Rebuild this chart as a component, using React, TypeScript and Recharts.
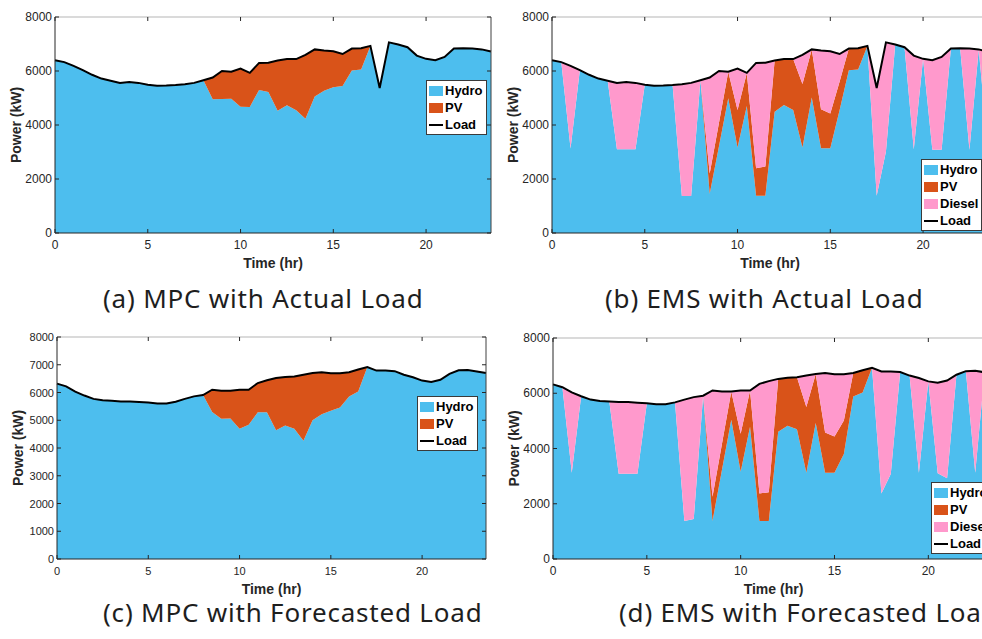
import React from "react";
import { ComposedChart, Area, Line, XAxis, YAxis, Legend, ReferenceLine, Label } from "recharts";

// half-hour steps over one day
const hours = [
  0, 0.5, 1, 1.5, 2, 2.5, 3, 3.5, 4, 4.5, 5, 5.5, 6, 6.5, 7, 7.5, 8, 8.5, 9, 9.5, 10, 10.5, 11, 11.5,
  12, 12.5, 13, 13.5, 14, 14.5, 15, 15.5, 16, 16.5, 17, 17.5, 18, 18.5, 19, 19.5, 20, 20.5, 21, 21.5, 22, 22.5, 23, 23.5,
];

const loadActual = [
  6400, 6330, 6190, 6030, 5860, 5720, 5640, 5560, 5590, 5560, 5490, 5450, 5460, 5480, 5510, 5560, 5660, 5760, 6000, 5970, 6090, 5930, 6300, 6310,
  6390, 6440, 6440, 6600, 6800, 6760, 6730, 6630, 6830, 6840, 6930, 5370, 7060, 6980, 6880, 6570, 6450, 6400, 6520, 6830, 6840, 6830, 6800, 6720,
];
const loadForecast = [
  6320, 6220, 6030, 5890, 5770, 5720, 5700, 5680, 5680, 5660, 5640, 5600, 5600, 5670, 5770, 5860, 5910, 6100, 6060, 6060, 6100, 6100, 6340, 6440,
  6520, 6560, 6580, 6640, 6700, 6730, 6690, 6690, 6730, 6830, 6920, 6790, 6790, 6770, 6640, 6550, 6430, 6380, 6460, 6670, 6800, 6810, 6760, 6700,
];

// (a) MPC, actual load
const hydroMpcActual = [
  6400, 6330, 6190, 6030, 5860, 5720, 5640, 5560, 5590, 5560, 5490, 5450, 5460, 5480, 5510, 5560, 5660, 4950, 4960, 4970, 4680, 4670, 5300, 5220,
  4530, 4730, 4550, 4230, 5060, 5270, 5400, 5440, 6020, 6060, 6930, 5370, 7060, 6980, 6880, 6570, 6450, 6400, 6520, 6830, 6840, 6830, 6800, 6720,
];
const pvMpcActual = [
  0, 0, 0, 0, 0, 0, 0, 0, 0, 0, 0, 0, 0, 0, 0, 0, 0, 810, 1040, 1000, 1410, 1260, 1000, 1090,
  1860, 1710, 1890, 2370, 1740, 1490, 1330, 1190, 810, 780, 0, 0, 0, 0, 0, 0, 0, 0, 0, 0, 0, 0, 0, 0,
];

// (b) EMS, actual load
const hydroEmsActual = [
  6400, 6330, 3130, 6030, 5860, 5720, 5640, 3100, 3100, 3100, 5490, 5450, 5460, 5480, 1370, 1370, 5660, 1450, 3210, 4990, 3170, 4700, 1380, 1380,
  4490, 4740, 4560, 3170, 5020, 3140, 3140, 4550, 6030, 6060, 6930, 1380, 3020, 6980, 6880, 3100, 6450, 3080, 3080, 6830, 6840, 3080, 6800, 3100,
];
const pvEmsActual = [
  0, 0, 0, 0, 0, 0, 0, 0, 0, 0, 0, 0, 0, 0, 0, 0, 0, 750, 870, 980, 1390, 1230, 1020, 1080,
  1900, 1700, 1880, 2350, 1780, 1440, 1290, 1050, 800, 780, 0, 0, 0, 0, 0, 0, 0, 0, 0, 0, 0, 0, 0, 0,
];
const dieselEmsActual = [
  0, 0, 3060, 0, 0, 0, 0, 2460, 2490, 2460, 0, 0, 0, 0, 4140, 4190, 0, 3560, 1920, 0, 1530, 0, 3900, 3850,
  0, 0, 0, 1080, 0, 2180, 2300, 1030, 0, 0, 0, 3990, 4040, 0, 0, 3470, 0, 3320, 3440, 0, 0, 3750, 0, 3620,
];

// (c) MPC, forecasted load
const hydroMpcForecast = [
  6320, 6220, 6030, 5890, 5770, 5720, 5700, 5680, 5680, 5660, 5640, 5600, 5600, 5670, 5770, 5860, 5910, 5300, 5050, 5060, 4690, 4840, 5290, 5290,
  4640, 4810, 4690, 4260, 5000, 5220, 5340, 5460, 5860, 6040, 6920, 6790, 6790, 6770, 6640, 6550, 6430, 6380, 6460, 6670, 6800, 6810, 6760, 6700,
];
const pvMpcForecast = [
  0, 0, 0, 0, 0, 0, 0, 0, 0, 0, 0, 0, 0, 0, 0, 0, 0, 800, 1010, 1000, 1410, 1260, 1050, 1150,
  1880, 1750, 1890, 2380, 1700, 1510, 1350, 1230, 870, 790, 0, 0, 0, 0, 0, 0, 0, 0, 0, 0, 0, 0, 0, 0,
];

// (d) EMS, forecasted load
const hydroEmsForecast = [
  6320, 6220, 3120, 5890, 5770, 5720, 5700, 3090, 3090, 3090, 5640, 5600, 5600, 5670, 1380, 1450, 5910, 1380, 3210, 5040, 3160, 4790, 1380, 1380,
  4610, 4820, 4700, 3120, 4920, 3120, 3120, 3800, 5880, 6030, 6920, 2370, 3080, 6770, 6640, 3120, 6430, 3100, 2920, 6670, 6800, 3120, 6760, 3100,
];
const pvEmsForecast = [
  0, 0, 0, 0, 0, 0, 0, 0, 0, 0, 0, 0, 0, 0, 0, 0, 0, 870, 940, 1020, 1370, 1310, 990, 1040,
  1910, 1740, 1880, 2380, 1780, 1460, 1310, 1210, 850, 800, 0, 0, 0, 0, 0, 0, 0, 0, 0, 0, 0, 0, 0, 0,
];
const dieselEmsForecast = [
  0, 0, 2910, 0, 0, 0, 0, 2590, 2590, 2570, 0, 0, 0, 0, 4390, 4410, 0, 3850, 1910, 0, 1570, 0, 3970, 4020,
  0, 0, 0, 1140, 0, 2150, 2260, 1680, 0, 0, 0, 4420, 3710, 0, 0, 3430, 0, 3280, 3540, 0, 0, 3690, 0, 3600,
];

const xTicks = [0, 5, 10, 15, 20];
const yTicksCoarse = [0, 2000, 4000, 6000, 8000];
const yTicksFine = [0, 1000, 2000, 3000, 4000, 5000, 6000, 7000, 8000];

const captions = [
  "(a) MPC with Actual Load",
  "(b) EMS with Actual Load",
  "(c) MPC with Forecasted Load",
  "(d) EMS with Forecasted Load",
];

const HYDRO = "#4DBEEE";
const PV = "#D95319";
const DIESEL = "#FF99CC";
const AXIS = "#262626";
const FONT = '"Liberation Sans", Arial, sans-serif';

type Series = { key: string; name: string; color: string };

const mpcSeries: Series[] = [
  { key: "hydro", name: "Hydro", color: HYDRO },
  { key: "pv", name: "PV", color: PV },
];
const emsSeries: Series[] = [
  { key: "hydro", name: "Hydro", color: HYDRO },
  { key: "pv", name: "PV", color: PV },
  { key: "diesel", name: "Diesel", color: DIESEL },
];

const rowsOf = (load: number[], hydro: number[], pv: number[], diesel?: number[]) =>
  hours.map((h, i) => ({ hour: h, hydro: hydro[i], pv: pv[i], diesel: diesel ? diesel[i] : 0, load: load[i] }));

type PanelProps = {
  box: { left: number; top: number; width: number; height: number };
  margin: { top: number; right: number; bottom: number; left: number };
  yAxisWidth: number;
  xAxisHeight: number;
  rows: Record<string, number>[];
  series: Series[];
  yTicks: number[];
  tickFont: number;
  legendAt: { left: number; top: number };
};

function Panel(p: PanelProps) {
  const plotLeft = p.margin.left + p.yAxisWidth;
  const plotRight = p.box.width - p.margin.right;
  const plotTop = p.margin.top;
  const plotBottom = p.box.height - p.margin.bottom - p.xAxisHeight;

  // ticks point inward, mirrored on the top and right edges of the box
  const xTick = (t: any) => (
    <g>
      <line x1={t.x} y1={t.y} x2={t.x} y2={t.y - 4} stroke={AXIS} />
      <line x1={t.x} y1={plotTop} x2={t.x} y2={plotTop + 4} stroke={AXIS} />
      <text x={t.x} y={t.y + 16} textAnchor="middle" fontSize={p.tickFont} fill={AXIS} fontFamily={FONT}>
        {t.payload.value}
      </text>
    </g>
  );
  const yTick = (t: any) => (
    <g>
      <line x1={t.x} y1={t.y} x2={t.x + 4} y2={t.y} stroke={AXIS} />
      <line x1={plotRight} y1={t.y} x2={plotRight - 4} y2={t.y} stroke={AXIS} />
      <text x={t.x - 3} y={t.y + 4} textAnchor="end" fontSize={p.tickFont} fill={AXIS} fontFamily={FONT}>
        {t.payload.value}
      </text>
    </g>
  );

  const legendBox = () => (
    <div
      style={{
        background: "#fff",
        border: "1px solid #3a3a3a",
        padding: "1px 3px 1px 2px",
        fontFamily: FONT,
        fontWeight: 700,
        fontSize: 13,
        color: "#000",
        whiteSpace: "nowrap",
      }}
    >
      {[...p.series, { key: "load", name: "Load", color: "#000" }].map((s) => (
        <div key={s.key} style={{ display: "flex", alignItems: "center", height: 17 }}>
          <span
            style={{
              display: "inline-block",
              width: 14,
              height: s.key === "load" ? 2 : 10,
              background: s.color,
            }}
          />
          <span style={{ marginLeft: 2 }}>{s.name}</span>
        </div>
      ))}
    </div>
  );

  return (
    <div style={{ position: "absolute", left: p.box.left, top: p.box.top }}>
      <ComposedChart width={p.box.width} height={p.box.height} data={p.rows} margin={p.margin}>
        {p.series.map((s) => (
          <Area
            key={s.key}
            type="linear"
            dataKey={s.key}
            name={s.name}
            stackId="gen"
            fill={s.color}
            fillOpacity={1}
            stroke="none"
            legendType="rect"
            isAnimationActive={false}
          />
        ))}
        <Line
          type="linear"
          dataKey="load"
          name="Load"
          stroke="#000"
          strokeWidth={2}
          dot={false}
          legendType="line"
          isAnimationActive={false}
        />
        <ReferenceLine y={8000} stroke="#b5b5b5" />
        <ReferenceLine x={23.5} stroke="#404040" />
        <XAxis
          dataKey="hour"
          type="number"
          domain={[0, 23.5]}
          ticks={xTicks}
          interval={0}
          height={p.xAxisHeight}
          tickSize={0}
          tickMargin={0}
          tickLine={false}
          tick={xTick}
          axisLine={{ stroke: AXIS }}
        >
          <Label
            content={() => (
              <text
                x={(plotLeft + plotRight) / 2}
                y={plotBottom + 35}
                textAnchor="middle"
                fontSize={14}
                fontWeight={700}
                fill={AXIS}
                fontFamily={FONT}
              >
                Time (hr)
              </text>
            )}
          />
        </XAxis>
        <YAxis
          type="number"
          domain={[0, 8000]}
          ticks={p.yTicks}
          interval={0}
          width={p.yAxisWidth}
          tickSize={0}
          tickMargin={0}
          tickLine={false}
          tick={yTick}
          axisLine={{ stroke: AXIS }}
        >
          <Label
            content={() => {
              const cx = plotLeft - 39.5;
              const cy = (plotTop + plotBottom) / 2;
              return (
                <text
                  x={cx}
                  y={cy}
                  transform={`rotate(-90 ${cx} ${cy})`}
                  textAnchor="middle"
                  dominantBaseline="central"
                  fontSize={14}
                  fontWeight={700}
                  fill={AXIS}
                  fontFamily={FONT}
                >
                  Power (kW)
                </text>
              );
            }}
          />
        </YAxis>
        <Legend
          layout="vertical"
          align="center"
          verticalAlign="middle"
          content={legendBox}
          wrapperStyle={{ left: p.legendAt.left, top: p.legendAt.top, width: "auto" }}
        />
      </ComposedChart>
    </div>
  );
}

const captionAt = [
  { x: 103, y: 308 },
  { x: 605, y: 308 },
  { x: 103, y: 622 },
  { x: 619, y: 622 },
];

export default function App() {
  return (
    <div
      style={{
        position: "absolute",
        left: 0,
        top: 0,
        width: 982,
        height: 639,
        overflow: "hidden",
        background: "#fff",
      }}
    >
      <Panel
        box={{ left: 0, top: 0, width: 500, height: 275 }}
        margin={{ top: 17, right: 9, bottom: 0, left: 0 }}
        yAxisWidth={55}
        xAxisHeight={42}
        rows={rowsOf(loadActual, hydroMpcActual, pvMpcActual)}
        series={mpcSeries}
        yTicks={yTicksCoarse}
        tickFont={12}
        legendAt={{ left: 426, top: 80 }}
      />
      <Panel
        box={{ left: 497, top: 0, width: 500, height: 275 }}
        margin={{ top: 17, right: 9, bottom: 0, left: 0 }}
        yAxisWidth={55}
        xAxisHeight={42}
        rows={rowsOf(loadActual, hydroEmsActual, pvEmsActual, dieselEmsActual)}
        series={emsSeries}
        yTicks={yTicksCoarse}
        tickFont={12}
        legendAt={{ left: 424, top: 159 }}
      />
      <Panel
        box={{ left: 0, top: 320, width: 494, height: 280 }}
        margin={{ top: 17, right: 8, bottom: 0, left: 0 }}
        yAxisWidth={57}
        xAxisHeight={41}
        rows={rowsOf(loadForecast, hydroMpcForecast, pvMpcForecast)}
        series={mpcSeries}
        yTicks={yTicksFine}
        tickFont={11}
        legendAt={{ left: 417, top: 76 }}
      />
      <Panel
        box={{ left: 497, top: 320, width: 506, height: 280 }}
        margin={{ top: 18, right: 9, bottom: 0, left: 0 }}
        yAxisWidth={56}
        xAxisHeight={41}
        rows={rowsOf(loadForecast, hydroEmsForecast, pvEmsForecast, dieselEmsForecast)}
        series={emsSeries}
        yTicks={yTicksCoarse}
        tickFont={12}
        legendAt={{ left: 434, top: 162 }}
      />
      <svg width={982} height={639} style={{ position: "absolute", left: 0, top: 0, pointerEvents: "none" }}>
        {captions.map((c, i) => (
          <text
            key={c}
            x={captionAt[i].x}
            y={captionAt[i].y}
            fontSize={26}
            letterSpacing={0.8}
            fill="#1e1e1e"
            fontFamily='"Noto Sans", "Open Sans", sans-serif'
          >
            {c}
          </text>
        ))}
      </svg>
    </div>
  );
}
